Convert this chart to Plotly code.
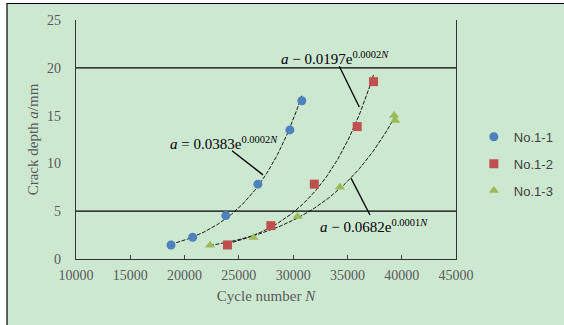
import numpy as np
import plotly.graph_objects as go

# ---- data ----
n11_x = [18750, 20750, 23800, 26750, 29700, 30800]
n11_y = [1.47, 2.27, 4.54, 7.83, 13.5, 16.55]
n12_x = [23950, 27950, 31950, 35900, 37400]
n12_y = [1.47, 3.49, 7.83, 13.85, 18.55]
n13_x = [22350, 26350, 30400, 34300, 39300, 39400]
n13_y = [1.45, 2.25, 4.45, 7.5, 15.0, 14.5]

names = ["No.1-1", "No.1-2", "No.1-3"]
colors = ["#4f81bd", "#c0504d", "#9bbb59"]
symbols = ["circle", "square", "triangle-up"]
x_ticks = [10000, 15000, 20000, 25000, 30000, 35000, 40000, 45000]
y_ticks = [0, 5, 10, 15, 20, 25]
grid_levels = [5, 20]

eq_texts = [
    "<i>a</i> = 0.0383e<sup>0.0002<i>N</i></sup>",
    "<i>a</i> − 0.0197e<sup>0.0002<i>N</i></sup>",
    "<i>a</i> − 0.0682e<sup>0.0001<i>N</i></sup>",
]
eq_pos = [(23677, 12.16), (33855, 21.07), (37446, 3.46)]
leaders = [((24368, 11.32), (27224, 8.8)),
           ((34250, 20.16), (36093, 15.9)),
           ((35328, 8.46), (37078, 4.61))]

BG = "#cde8d0"
SERIF = "Liberation Serif, Times New Roman, serif"

fig = go.Figure()
series = [(n11_x, n11_y), (n12_x, n12_y), (n13_x, n13_y)]

# exponential trendlines (least squares on ln y, like the spreadsheet trendline)
for (xs, ys) in series:
    xs_a = np.array(xs, float)
    b, lnA = np.polyfit(xs_a, np.log(ys), 1)
    xx = np.linspace(xs_a.min(), xs_a.max(), 120)
    fig.add_trace(go.Scatter(x=xx, y=np.exp(lnA + b * xx), mode="lines",
                             line=dict(color="#000000", width=0.9, dash="4px,1.5px"),
                             showlegend=False, hoverinfo="skip"))

for i, (xs, ys) in enumerate(series):
    fig.add_trace(go.Scatter(x=xs, y=ys, mode="markers", name=names[i],
                             legendgroup=names[i],
                             marker=dict(color=colors[i], symbol=symbols[i], size=9,
                                         line=dict(width=0))))

# outer chart frame
fig.add_shape(type="rect", xref="paper", yref="paper",
              x0=-0.1816, x1=1.35, y0=-0.35, y1=1.069,
              fillcolor=BG, line=dict(color="#000000", width=1.2), layer="below")

for g in grid_levels:
    fig.add_shape(type="line", xref="paper", yref="y", x0=0, x1=1, y0=g, y1=g,
                  line=dict(color="#000000", width=1.2), layer="below")

for t, (px, py) in zip(eq_texts, eq_pos):
    fig.add_annotation(x=px, y=py, xref="x", yref="y", text=t, showarrow=False,
                       font=dict(family=SERIF, size=15, color="#000000"))
for (a, b) in leaders:
    fig.add_shape(type="line", xref="x", yref="y", x0=a[0], y0=a[1], x1=b[0], y1=b[1],
                  line=dict(color="#000000", width=1.3))

fig.update_layout(
    width=564, height=325,
    margin=dict(l=76, r=108, t=20, b=66, autoexpand=False),
    paper_bgcolor="#ffffff", plot_bgcolor="rgba(0,0,0,0)",
    showlegend=True,
    legend=dict(x=1.047, xanchor="left", y=0.574, yanchor="top",
                bgcolor="rgba(0,0,0,0)", tracegroupgap=7,
                font=dict(family="Liberation Sans, Arial, sans-serif", size=13,
                          color="#404040")),
    xaxis=dict(range=[10000, 45000], tickvals=x_ticks, tickformat="d",
               ticks="inside", ticklen=4, automargin=False,
               tickcolor="#404040", showgrid=False, zeroline=False,
               showline=True, linecolor="#333333", linewidth=1.2,
               tickfont=dict(family=SERIF, size=14, color="#595959"),
               ticklabelstandoff=3,
               title=dict(text="Cycle number <i>N</i>", standoff=8,
                          font=dict(family=SERIF, size=15, color="#595959"))),
    yaxis=dict(range=[0, 25], tickvals=y_ticks, ticks="", showgrid=False,
               zeroline=False, showline=True, mirror=True, linecolor="#333333",
               linewidth=1.2, automargin=False,
               tickfont=dict(family=SERIF, size=14, color="#595959"),
               ticklabelstandoff=11,
               title=dict(text="Crack depth <i>a</i>/mm", standoff=4,
                          font=dict(family=SERIF, size=15, color="#595959"))),
)

fig.write_html("out.html", config={"displayModeBar": False},
               post_script="document.body.style.margin='0';document.body.style.padding='0';")
